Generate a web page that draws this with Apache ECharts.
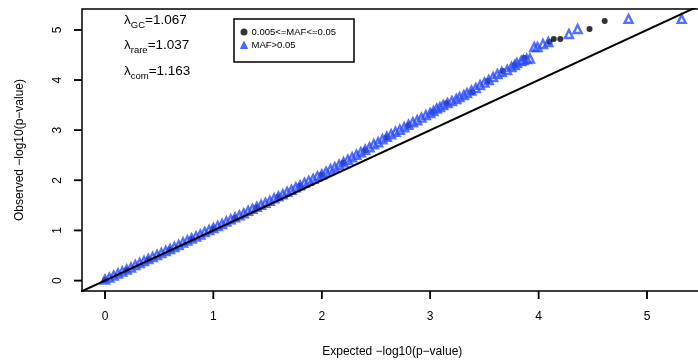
<!DOCTYPE html>
<html><head><meta charset="utf-8">
<script src="https://cdn.jsdelivr.net/npm/echarts@6/dist/echarts.min.js"></script>
<style>html,body{margin:0;padding:0;background:#fff}#c{width:698px;height:364px}</style>
</head><body><div id="c"></div>
<script>
// Tick labels
const xTicks = [0, 1, 2, 3, 4, 5];
const yTicks = [0, 1, 2, 3, 4, 5];
const seriesNames = ['0.005<=MAF<=0.05', 'MAF>0.05'];
const lambdaLabels = [['GC', '1.067'], ['rare', '1.037'], ['com', '1.163']];

// MAF>0.05 (blue triangles): [expected, observed]
const commonPts = [
 [0.00,0.02],[0.04,0.06],[0.08,0.10],[0.12,0.14],[0.16,0.18],[0.20,0.22],[0.24,0.26],[0.28,0.31],
 [0.32,0.35],[0.36,0.39],[0.40,0.43],[0.44,0.47],[0.48,0.51],[0.52,0.55],[0.56,0.59],[0.60,0.63],
 [0.64,0.67],[0.68,0.71],[0.72,0.76],[0.76,0.80],[0.80,0.84],[0.84,0.88],[0.88,0.92],[0.92,0.97],
 [0.96,1.01],[1.00,1.05],[1.04,1.09],[1.08,1.13],[1.12,1.18],[1.16,1.22],[1.20,1.26],[1.24,1.30],
 [1.28,1.34],[1.32,1.39],[1.36,1.43],[1.40,1.47],[1.44,1.51],[1.48,1.55],[1.52,1.59],[1.56,1.64],
 [1.60,1.68],[1.64,1.72],[1.68,1.77],[1.72,1.81],[1.76,1.86],[1.80,1.90],[1.84,1.95],[1.88,1.99],
 [1.92,2.03],[1.96,2.08],[2.00,2.12],[2.04,2.17],[2.08,2.22],[2.12,2.26],[2.16,2.31],[2.20,2.36],
 [2.24,2.41],[2.28,2.46],[2.32,2.51],[2.36,2.56],[2.40,2.61],[2.44,2.66],[2.48,2.72],[2.52,2.76],
 [2.56,2.82],[2.60,2.87],[2.64,2.92],[2.68,2.97],[2.72,3.01],[2.76,3.06],[2.80,3.11],[2.84,3.16],
 [2.88,3.20],[2.92,3.25],[2.96,3.30],[3.00,3.34],
 [3.03,3.38],[3.06,3.43],[3.09,3.46],[3.12,3.50],[3.16,3.54],[3.20,3.58],[3.24,3.62],[3.27,3.66],
 [3.31,3.70],[3.34,3.74],[3.38,3.79],[3.42,3.84],[3.46,3.90],[3.50,3.95],[3.54,4.00],[3.58,4.06],
 [3.62,4.12],[3.66,4.16],[3.71,4.20],[3.75,4.26],[3.78,4.30],[3.80,4.34],[3.84,4.38],[3.86,4.40],
 [3.89,4.42],[3.92,4.43],[3.96,4.66],[3.99,4.66],[4.04,4.72],[4.09,4.76],[4.28,4.92],[4.36,5.02],
 [4.83,5.22],[5.32,5.22]
];
// 0.005<=MAF<=0.05 (black dots): [expected, observed]
const rarePts = [
 [0.00,0.01],[0.20,0.21],[0.40,0.42],[0.60,0.62],[0.80,0.83],[1.00,1.04],[1.20,1.25],[1.40,1.46],
 [1.60,1.67],[1.80,1.89],[2.00,2.11],[2.20,2.35],[2.40,2.60],[2.60,2.86],[2.80,3.10],
 [3.02,3.36],[3.15,3.54],[3.39,3.76],[3.53,3.98],[3.67,4.18],[3.78,4.30],[3.87,4.44],[4.10,4.76],
 [4.14,4.82],[4.20,4.82],[4.47,5.02],[4.61,5.18]
];
const diagonal = [[-1, -1], [7, 7]];

const BLUE = '#2b4cff';
const FONT = '"Liberation Sans", Arial, Helvetica, sans-serif';
const X_RANGE = [-0.212, 5.512];
const Y_RANGE = [-0.208, 5.418];
const chart = echarts.init(document.getElementById('c'), null, {renderer: 'canvas'});

const lambdaGraphics = lambdaLabels.map((l, i) => ({
  type: 'text', left: 124, top: 13 + i * 25.5,
  style: {
    text: '{a|λ}{s|' + l[0] + '}{a|=' + l[1] + '}',
    rich: {
      a: {fontSize: 13.5, fontFamily: FONT, fill: '#000', verticalAlign: 'bottom', lineHeight: 16},
      s: {fontSize: 9.5, fontFamily: FONT, fill: '#000', verticalAlign: 'bottom', lineHeight: 12, padding: [0, 0, -3, 0]}
    }
  }
}));

const nameStyle = {fontSize: 12, color: '#000', fontFamily: FONT};
const TICK_LEN = 8;
const TICK_W = 1.5;

// axis ticks (thin filled rects) + labels placed through the axes' own scales (api.coord)
function xTickItem(params, api) {
  const v = api.value(0);
  const p = api.coord([v, Y_RANGE[0]]);
  return {type: 'group', children: [
    {type: 'rect', shape: {x: p[0] - TICK_W / 2, y: p[1], width: TICK_W, height: TICK_LEN}, style: {fill: '#000'}},
    {type: 'text', x: p[0], y: p[1] + 20, style: {text: String(v), textAlign: 'center', textVerticalAlign: 'top', fontSize: 12, fontFamily: FONT, fill: '#000'}}
  ]};
}
function yTickItem(params, api) {
  const v = api.value(1);
  const p = api.coord([X_RANGE[0], v]);
  return {type: 'group', children: [
    {type: 'rect', shape: {x: p[0] - TICK_LEN, y: p[1] - TICK_W / 2, width: TICK_LEN, height: TICK_W}, style: {fill: '#000'}},
    {type: 'text', x: p[0] - 18, y: p[1], rotation: Math.PI / 2, style: {text: String(v), textAlign: 'center', textVerticalAlign: 'bottom', fontSize: 12, fontFamily: FONT, fill: '#000'}}
  ]};
}

chart.setOption({
  animation: false,
  backgroundColor: '#fff',
  grid: {left: 82, top: 9, right: -4.5, bottom: 73, show: true, borderColor: '#000', borderWidth: 1.5,
         backgroundColor: 'transparent', containLabel: false, outerBoundsMode: 'none'},
  xAxis: {
    type: 'value', min: X_RANGE[0], max: X_RANGE[1], position: 'bottom',
    axisLine: {show: false, onZero: false}, axisTick: {show: false}, axisLabel: {show: false}, splitLine: {show: false},
    name: 'Expected \u2212log10(p\u2212value)', nameLocation: 'middle', nameGap: 55, nameTextStyle: nameStyle
  },
  yAxis: {
    type: 'value', min: Y_RANGE[0], max: Y_RANGE[1], position: 'left',
    axisLine: {show: false, onZero: false}, axisTick: {show: false}, axisLabel: {show: false}, splitLine: {show: false},
    name: 'Observed \u2212log10(p\u2212value)', nameLocation: 'middle', nameGap: 56, nameTextStyle: nameStyle
  },
  legend: {
    orient: 'vertical', left: 234, top: 19,
    borderColor: '#000', borderWidth: 1.5, borderRadius: 0,
    padding: [8, 18, 12, 6], itemGap: 3, itemWidth: 7, itemHeight: 7,
    textStyle: {fontSize: 9.5, color: '#000', fontFamily: FONT, padding: [0, 0, 0, -1]},
    data: [
      {name: seriesNames[0], icon: 'circle', itemStyle: {color: '#000', borderWidth: 0}},
      {name: seriesNames[1], icon: 'triangle', itemStyle: {color: BLUE, borderColor: BLUE, borderWidth: 1}}
    ]
  },
  graphic: lambdaGraphics,
  series: [
    {
      name: seriesNames[0], type: 'scatter', data: rarePts, symbol: 'circle', symbolSize: 6, z: 2,
      itemStyle: {color: '#000'}
    },
    {
      name: seriesNames[1], type: 'scatter', data: commonPts, symbol: 'triangle', symbolSize: 8, z: 3,
      itemStyle: {color: 'rgba(255,255,255,0)', borderColor: BLUE, borderWidth: 2.4}
    },
    {
      type: 'line', data: diagonal, symbol: 'none', z: 4, clip: true, silent: true,
      lineStyle: {color: '#000', width: 2}
    },
    {
      type: 'custom', data: xTicks.map(v => [v, 0]), renderItem: xTickItem, clip: false, silent: true, z: 5
    },
    {
      type: 'custom', data: yTicks.map(v => [0, v]), renderItem: yTickItem, clip: false, silent: true, z: 5
    }
  ]
});

// Fallback tick marks via graphic rects, positioned with the chart's own scales
const tickRects = [];
xTicks.forEach(v => {
  const p = chart.convertToPixel({gridIndex: 0}, [v, Y_RANGE[0]]);
  tickRects.push({type: 'rect', z: 10, silent: true, shape: {x: p[0] - TICK_W / 2, y: p[1], width: TICK_W, height: TICK_LEN}, style: {fill: '#000'}});
});
yTicks.forEach(v => {
  const p = chart.convertToPixel({gridIndex: 0}, [X_RANGE[0], v]);
  tickRects.push({type: 'rect', z: 10, silent: true, shape: {x: p[0] - TICK_LEN, y: p[1] - TICK_W / 2, width: TICK_LEN, height: TICK_W}, style: {fill: '#000'}});
});
chart.setOption({graphic: lambdaGraphics.concat(tickRects)}, {replaceMerge: ['graphic']});
</script></body></html>
